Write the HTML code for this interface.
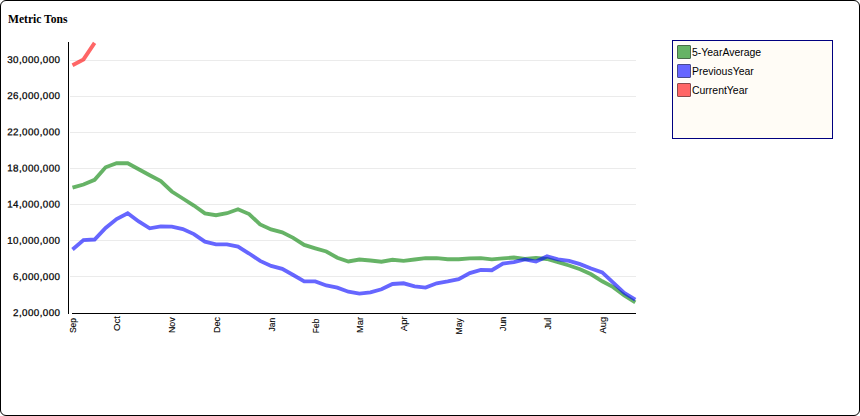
<!DOCTYPE html>
<html><head><meta charset="utf-8"><title>Metric Tons</title>
<style>
html,body{margin:0;padding:0;background:#fff;}
body{width:860px;height:416px;overflow:hidden;position:relative;font-family:"Liberation Sans",sans-serif;}
#frame{position:absolute;left:0;top:0;width:860px;height:416px;box-sizing:border-box;border:1px solid #000;border-radius:6px;background:#fff;}
#title{position:absolute;left:8px;top:12px;font-family:"Liberation Serif",serif;font-weight:bold;font-size:12px;line-height:14px;color:#000;white-space:nowrap;transform:scaleX(0.965);transform-origin:0 0;}
svg{position:absolute;left:0;top:0;}
.yl text{font-family:"Liberation Sans",sans-serif;font-size:9.8px;letter-spacing:0.42px;fill:#000;stroke:#000;stroke-width:0.25px;}
.xl text{font-family:"Liberation Sans",sans-serif;font-size:9.8px;fill:#000;stroke:#000;stroke-width:0.1px;}
#legend{position:absolute;left:672px;top:40px;width:161px;height:99px;box-sizing:border-box;border:1px solid #000080;background:#fffcf6;}
.li{position:absolute;left:4px;height:14px;white-space:nowrap;}
.sw{position:absolute;left:0;top:0;width:14px;height:14px;box-sizing:border-box;border:1px solid #4a6a4a;border-radius:1px;box-shadow:0 0 0 1px #fff;}
.lt{position:absolute;left:15.4px;top:0;font-size:11px;line-height:14px;color:#000;transform:scaleX(0.95);transform-origin:0 0;text-shadow:0 0 1px #fff;}
</style></head><body>
<div id="frame"></div>
<div id="title">Metric Tons</div>
<svg width="860" height="416" viewBox="0 0 860 416">
<g shape-rendering="crispEdges"><rect x="70" y="60" width="566.3" height="1" fill="#ebebeb"/><rect x="70" y="96" width="566.3" height="1" fill="#ebebeb"/><rect x="70" y="132" width="566.3" height="1" fill="#ebebeb"/><rect x="70" y="168" width="566.3" height="1" fill="#ebebeb"/><rect x="70" y="204" width="566.3" height="1" fill="#ebebeb"/><rect x="70" y="240" width="566.3" height="1" fill="#ebebeb"/><rect x="70" y="276" width="566.3" height="1" fill="#ebebeb"/>
<rect x="68" y="42" width="1" height="272" fill="#000"/>
<rect x="72" y="313" width="564.3" height="1" fill="#000"/>
</g>
<g fill="none" stroke-width="3.85" stroke-linejoin="miter" stroke-linecap="butt">
<polyline stroke="rgba(0,128,0,0.6)" points="72.5,187.7 83.5,184.5 94.6,179.8 105.6,167.3 116.6,163.2 127.7,163.2 138.7,169.2 149.7,175.2 160.8,181.1 171.8,191.5 182.8,198.5 193.9,205.5 204.9,213.4 216.0,215.2 227.0,213.2 238.0,209.3 249.1,214.1 260.1,224.4 271.1,229.4 282.2,232.3 293.2,237.8 304.2,244.9 315.3,248.3 326.3,251.5 337.3,257.7 348.4,261.5 359.4,259.5 370.4,260.5 381.5,261.7 392.5,259.8 403.6,260.8 414.6,259.5 425.6,258.2 436.7,258.2 447.7,259.2 458.7,259.2 469.8,258.3 480.8,258.1 491.8,259.4 502.9,258.4 513.9,257.5 524.9,259.0 536.0,258.0 547.0,259.0 558.0,262.2 569.1,265.5 580.1,269.2 591.1,274.3 602.2,281.3 613.2,287.1 624.2,295.4 635.3,302.3"/>
<polyline stroke="rgba(0,0,255,0.6)" points="72.5,249.5 83.5,240.1 94.6,239.5 105.6,227.9 116.6,219.0 127.7,213.2 138.7,221.5 149.7,228.3 160.8,226.4 171.8,226.7 182.8,229.0 193.9,234.1 204.9,241.7 216.0,244.3 227.0,244.3 238.0,246.5 249.1,253.5 260.1,260.9 271.1,265.9 282.2,268.9 293.2,275.0 304.2,281.4 315.3,281.4 326.3,285.5 337.3,287.6 348.4,291.7 359.4,293.6 370.4,292.3 381.5,289.3 392.5,284.0 403.6,283.3 414.6,286.3 425.6,287.6 436.7,283.3 447.7,281.4 458.7,279.2 469.8,273.1 480.8,269.9 491.8,270.2 502.9,263.5 513.9,262.2 524.9,259.4 536.0,261.6 547.0,256.4 558.0,259.3 569.1,260.8 580.1,264.1 591.1,268.5 602.2,272.4 613.2,282.6 624.2,292.8 635.3,299.7"/>
<polyline stroke="rgba(255,0,0,0.6)" points="72.5,65.2 83.5,59.4 94.6,42.9"/>
</g>
<g class="yl"><text transform="translate(60.4,63.0) rotate(0.03)" text-anchor="end">30,000,000</text><text transform="translate(60.4,99.1) rotate(0.03)" text-anchor="end">26,000,000</text><text transform="translate(60.4,135.3) rotate(0.03)" text-anchor="end">22,000,000</text><text transform="translate(60.4,171.4) rotate(0.03)" text-anchor="end">18,000,000</text><text transform="translate(60.4,207.6) rotate(0.03)" text-anchor="end">14,000,000</text><text transform="translate(60.4,243.7) rotate(0.03)" text-anchor="end">10,000,000</text><text transform="translate(60.4,279.9) rotate(0.03)" text-anchor="end">6,000,000</text><text transform="translate(60.4,316.0) rotate(0.03)" text-anchor="end">2,000,000</text></g>
<g class="xl"><text transform="translate(76.0,325.5) rotate(-90)" text-anchor="middle" textLength="15.2" lengthAdjust="spacingAndGlyphs">Sep</text><text transform="translate(120.1,323.5) rotate(-90)" text-anchor="middle" textLength="14.8" lengthAdjust="spacingAndGlyphs">Oct</text><text transform="translate(175.3,325.2) rotate(-90)" text-anchor="middle" textLength="15.7" lengthAdjust="spacingAndGlyphs">Nov</text><text transform="translate(219.5,325.0) rotate(-90)" text-anchor="middle" textLength="16.1" lengthAdjust="spacingAndGlyphs">Dec</text><text transform="translate(274.6,324.7) rotate(-90)" text-anchor="middle" textLength="13.6" lengthAdjust="spacingAndGlyphs">Jan</text><text transform="translate(318.8,325.9) rotate(-90)" text-anchor="middle" textLength="14.5" lengthAdjust="spacingAndGlyphs">Feb</text><text transform="translate(362.9,325.0) rotate(-90)" text-anchor="middle" textLength="16.1" lengthAdjust="spacingAndGlyphs">Mar</text><text transform="translate(407.1,323.8) rotate(-90)" text-anchor="middle" textLength="14.8" lengthAdjust="spacingAndGlyphs">Apr</text><text transform="translate(462.2,326.4) rotate(-90)" text-anchor="middle" textLength="16.3" lengthAdjust="spacingAndGlyphs">May</text><text transform="translate(506.4,323.9) rotate(-90)" text-anchor="middle" textLength="14.4" lengthAdjust="spacingAndGlyphs">Jun</text><text transform="translate(550.5,323.6) rotate(-90)" text-anchor="middle" textLength="11.9" lengthAdjust="spacingAndGlyphs">Jul</text><text transform="translate(605.7,325.1) rotate(-90)" text-anchor="middle" textLength="16.7" lengthAdjust="spacingAndGlyphs">Aug</text></g>
</svg>
<div id="legend">
<div class="li" style="top:4px"><div class="sw" style="background:#66b366;border-color:#4a6b4a"></div><div class="lt">5-YearAverage</div></div>
<div class="li" style="top:23px"><div class="sw" style="background:#6666ff;border-color:#4a4a8c"></div><div class="lt">PreviousYear</div></div>
<div class="li" style="top:42px"><div class="sw" style="background:#ff6666;border-color:#8c4a4a"></div><div class="lt">CurrentYear</div></div>
</div>
</body></html>
